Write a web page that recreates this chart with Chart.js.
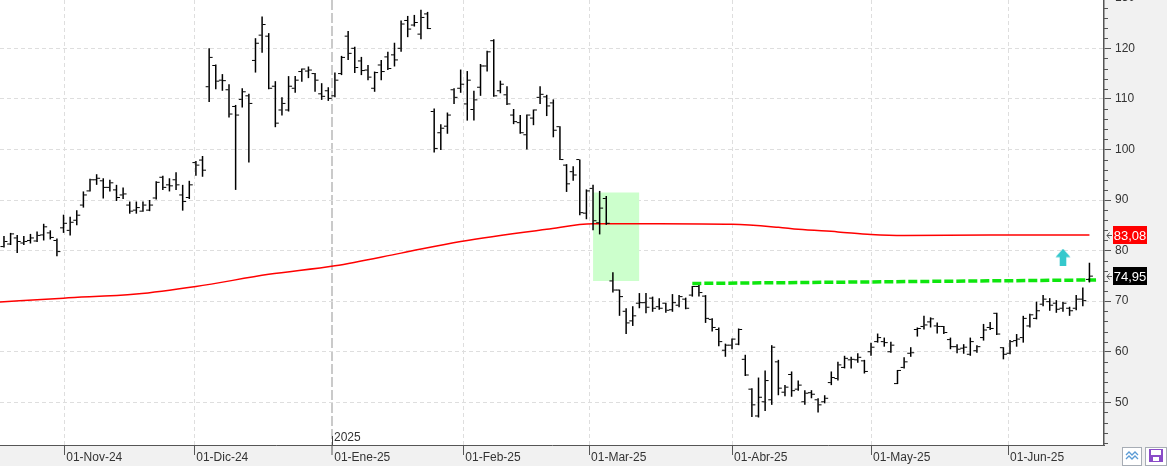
<!DOCTYPE html>
<html>
<head>
<meta charset="utf-8">
<script src="https://cdn.jsdelivr.net/npm/chart.js@4/dist/chart.umd.min.js"></script>
<style>
  html, body { margin: 0; padding: 0; background: #fff; }
</style>
</head>
<body>
<canvas id="myChart" width="1167" height="466"></canvas>
<script>
// sesiones (indice 0 = primera barra visible)
const highs = [
    82.9, 83.5, 83.1, 82.9, 83.3, 83.8, 85.3, 84.0, 82.4, 87.1,
    86.7, 88.0, 91.7, 94.2, 95.1, 94.3, 94.0, 93.0, 92.5, 89.7,
    89.7, 89.7, 90.0, 93.7, 94.8, 94.3, 95.5, 93.0, 93.8, 97.7,
    98.7, 120.0, 116.8, 114.9, 112.9, 108.8, 112.1, 111.0, 122.0, 126.3,
    123.0, 113.5, 110.3, 114.5, 114.5, 116.0, 116.4, 115.1, 113.1, 112.3,
    115.2, 118.5, 123.4, 120.3, 118.3, 116.7, 115.4, 117.7, 119.3, 121.1,
    125.5, 126.4, 126.6, 127.6, 127.2, 108.1, 105.0, 107.3, 112.1, 115.8,
    115.5, 111.6, 116.9, 119.5, 121.8, 113.6, 112.5, 108.0, 106.8, 106.9,
    107.9, 112.5, 110.8, 109.9, 104.6, 97.1, 96.7, 98.0, 92.1, 93.0,
    91.8, 90.8, 75.7, 72.3, 68.6, 69.0, 71.6, 71.6, 70.9, 70.6,
    69.7, 71.4, 71.2, 70.7, 73.0, 73.2, 71.2, 66.6, 64.8, 61.6,
    62.6, 64.6, 59.4, 52.8, 54.9, 56.3, 61.3, 58.4, 53.4, 56.1,
    54.3, 52.4, 52.4, 50.8, 51.4, 56.1, 58.0, 59.2, 59.0, 59.7,
    58.4, 61.8, 63.6, 62.8, 62.0, 56.4, 58.9, 60.9, 64.8, 67.1,
    66.8, 65.8, 65.1, 62.8, 61.5, 61.5, 62.8, 61.3, 65.5, 65.9,
    67.7, 60.9, 62.3, 63.5, 67.1, 67.5, 69.9, 71.2, 70.6, 70.2,
    69.9, 68.9, 71.2, 72.7, 77.6
];
const lows = [
    80.6, 81.1, 79.5, 81.1, 81.4, 81.7, 82.0, 82.2, 78.9, 83.5,
    83.0, 85.0, 88.5, 91.7, 93.0, 90.3, 91.7, 89.8, 90.2, 87.3,
    87.3, 87.7, 87.8, 90.1, 92.0, 91.7, 92.0, 87.9, 90.2, 94.8,
    94.6, 109.4, 111.9, 111.6, 106.3, 92.0, 108.3, 97.4, 115.2, 119.1,
    111.9, 104.4, 106.7, 107.5, 111.2, 113.4, 114.1, 111.4, 109.8, 109.6,
    110.3, 114.7, 117.7, 115.1, 114.7, 113.7, 111.4, 113.7, 115.7, 116.4,
    119.3, 122.2, 124.3, 121.8, 123.8, 99.4, 99.9, 103.1, 109.0, 111.2,
    105.7, 105.7, 110.6, 115.4, 110.4, 111.1, 108.8, 105.0, 103.1, 100.0,
    104.8, 109.0, 106.6, 102.4, 97.9, 91.6, 93.8, 87.0, 86.2, 84.0,
    83.2, 85.1, 71.7, 67.1, 63.5, 65.1, 68.6, 67.6, 67.9, 68.3,
    67.7, 67.9, 68.8, 68.4, 70.9, 70.9, 65.7, 64.0, 61.1, 59.0,
    60.5, 61.3, 55.2, 47.1, 47.0, 48.3, 49.5, 51.4, 51.2, 51.1,
    52.3, 49.5, 50.8, 48.0, 49.8, 53.4, 54.3, 56.7, 56.7, 57.8,
    55.7, 59.2, 61.8, 61.0, 59.8, 53.6, 56.7, 59.0, 63.0, 64.4,
    64.8, 63.6, 63.5, 60.5, 59.7, 59.6, 59.2, 59.8, 62.2, 64.3,
    63.3, 58.5, 59.5, 61.0, 61.8, 64.8, 66.4, 69.0, 68.1, 67.7,
    67.9, 67.1, 68.2, 69.0, 73.7
];
const opens = [
    80.8, 81.3, 82.5, 81.5, 82.0, 81.9, 83.1, 83.5, 82.0, 84.5,
    84.0, 86.0, 89.0, 91.8, 94.0, 93.8, 92.5, 92.0, 91.0, 89.0,
    88.0, 87.8, 88.0, 90.4, 94.5, 93.0, 94.0, 91.0, 90.5, 97.4,
    97.9, 112.4, 116.6, 113.7, 111.8, 108.5, 109.9, 110.6, 117.6, 122.6,
    122.4, 112.5, 107.8, 107.8, 112.1, 115.4, 115.5, 115.0, 111.0, 111.6,
    110.6, 115.0, 122.4, 120.0, 117.5, 115.7, 112.1, 116.7, 118.3, 118.7,
    120.0, 125.5, 124.6, 122.8, 126.8, 107.5, 103.3, 104.6, 111.8, 112.1,
    109.0, 107.9, 112.3, 116.5, 121.5, 111.6, 110.8, 106.8, 105.3, 102.9,
    106.2, 110.3, 110.4, 109.2, 104.5, 96.9, 95.6, 98.0, 87.4, 92.3,
    85.5, 90.3, 74.0, 72.2, 68.0, 66.1, 69.6, 69.7, 70.6, 68.9,
    69.6, 68.3, 69.2, 70.4, 71.2, 72.9, 71.0, 66.4, 64.4, 60.3,
    61.3, 61.5, 58.5, 52.6, 47.3, 50.1, 50.5, 58.0, 52.0, 55.5,
    52.6, 50.1, 51.9, 50.5, 50.1, 53.9, 54.7, 56.9, 58.4, 58.4,
    58.2, 60.0, 62.0, 62.0, 60.0, 53.7, 56.9, 59.7, 64.4, 65.0,
    65.9, 65.1, 65.0, 62.4, 61.0, 60.7, 59.5, 60.2, 62.8, 64.8,
    67.6, 60.8, 59.7, 62.2, 62.8, 65.1, 66.6, 69.4, 69.9, 69.6,
    68.6, 68.6, 68.6, 70.4, 74.3
];
const closes = [
    81.8, 83.3, 81.8, 81.8, 82.5, 83.0, 84.7, 82.6, 79.8, 85.4,
    85.6, 87.0, 91.0, 94.0, 94.3, 92.5, 93.4, 90.5, 91.2, 87.8,
    88.5, 89.0, 89.0, 93.5, 92.5, 92.8, 93.0, 89.7, 93.0, 96.9,
    95.9, 118.2, 113.5, 113.6, 107.0, 106.8, 111.4, 109.1, 121.0, 124.7,
    112.1, 105.2, 109.1, 112.5, 113.7, 115.9, 115.7, 113.7, 110.5, 110.1,
    113.7, 118.2, 119.0, 116.2, 115.6, 114.3, 115.2, 115.4, 116.0, 117.7,
    124.8, 123.8, 125.1, 126.1, 123.9, 100.2, 104.2, 106.8, 110.3, 112.9,
    113.7, 109.8, 116.5, 119.3, 110.6, 112.9, 109.0, 105.5, 103.3, 106.8,
    107.8, 110.9, 108.6, 103.8, 98.0, 93.2, 94.95, 87.5, 91.8, 85.9,
    88.4, 85.4, 72.2, 70.9, 65.7, 67.1, 69.7, 68.8, 68.6, 68.6,
    68.2, 69.7, 70.9, 68.6, 72.9, 71.7, 66.6, 64.8, 62.0, 61.3,
    62.5, 64.4, 55.4, 49.5, 51.0, 54.3, 60.9, 52.8, 53.0, 52.3,
    53.4, 51.8, 51.6, 49.5, 50.8, 54.9, 57.4, 58.7, 58.5, 58.9,
    56.1, 60.9, 62.8, 61.8, 61.3, 56.3, 58.0, 59.8, 64.6, 65.3,
    66.5, 65.0, 63.8, 61.0, 60.5, 60.9, 62.0, 61.0, 64.3, 64.6,
    63.5, 59.5, 62.0, 62.5, 66.6, 67.3, 68.1, 70.4, 69.2, 68.4,
    69.6, 68.1, 70.4, 70.1, 74.95
];

// media movil roja
const maIdx = [-1, 9, 20, 29, 40, 50, 60, 69, 82, 89, 99, 110, 117, 120, 126, 131, 136, 149, 164];
const maVal = [69.8, 70.6, 71.4, 72.9, 75.3, 77.0, 79.5, 81.8, 84.2, 85.3, 85.3, 85.2, 84.6, 84.2, 83.7, 83.2, 83.0, 83.1, 83.08];

// linea verde discontinua (resistencia)
const resIdx = [104, 165];
const resVal = [73.5, 74.2];

// zona verde
const zoneIdx = [89, 96];
const zoneTop = 91.5;
const zoneBottom = 74.0;

// flecha de señal
const signalIdx = [160];
const signalVal = [78.7];

const monthTicks = [9.1, 28.75, 49.6, 69.4, 88.4, 110, 131, 151.7];
const monthLabels = ['01-Nov-24', '01-Dic-24', '01-Ene-25', '01-Feb-25', '01-Mar-25', '01-Abr-25', '01-May-25', '01-Jun-25'];
const yearTick = 49.6;
const yearLabel = '2025';
const priceTicks = [50, 60, 70, 80, 90, 100, 110, 120, 130];

const FONT = "'Liberation Sans', Arial, sans-serif";
Chart.defaults.font.family = FONT;
Chart.defaults.font.size = 12;

function fmt(v) {
    return v.toFixed(2).replace('.', ',');
}

function makeArrow(color) {
    const c = document.createElement('canvas');
    c.width = 16;
    c.height = 17;
    const g = c.getContext('2d');
    g.fillStyle = color;
    g.beginPath();
    g.moveTo(8, 0);
    g.lineTo(15.5, 8.5);
    g.lineTo(11.3, 8.5);
    g.lineTo(11.3, 17);
    g.lineTo(4.7, 17);
    g.lineTo(4.7, 8.5);
    g.lineTo(0.5, 8.5);
    g.closePath();
    g.fill();
    return c;
}

const panelPlugin = {
    id: 'panels',
    beforeDraw(chart) {
        const {ctx, chartArea, width, height} = chart;
        ctx.save();
        ctx.fillStyle = '#ffffff';
        ctx.fillRect(0, 0, width, height);
        ctx.fillStyle = '#f1f1f1';
        ctx.fillRect(chartArea.right, 0, width - chartArea.right, height);
        ctx.fillRect(0, chartArea.bottom, width, height - chartArea.bottom);
        ctx.restore();
    },
    afterDraw(chart) {
        const {ctx, chartArea} = chart;
        const xs = chart.scales.x;
        const ys = chart.scales.y;
        ctx.save();

        // marcas menores del eje de precios
        ctx.strokeStyle = '#555';
        ctx.lineWidth = 1;
        for (let v = 42; v <= 128; v += 2) {
            if (v % 10 === 0) continue;
            const y = Math.round(ys.getPixelForValue(v)) + 0.5;
            ctx.beginPath();
            ctx.moveTo(chartArea.right, y);
            ctx.lineTo(chartArea.right + 4, y);
            ctx.stroke();
        }

        // marca de año
        const yx = Math.round(xs.getPixelForValue(yearTick)) + 0.5;
        ctx.strokeStyle = '#444';
        ctx.beginPath();
        ctx.moveTo(yx, chartArea.bottom - 9);
        ctx.lineTo(yx, chartArea.bottom);
        ctx.stroke();
        ctx.fillStyle = '#333';
        ctx.font = '12px ' + FONT;
        ctx.textBaseline = 'alphabetic';
        ctx.textAlign = 'left';
        ctx.fillText(yearLabel, yx + 1.5, chartArea.bottom - 4);

        // etiquetas de último valor
        const tags = [
            {v: maVal[maVal.length - 1], bg: '#ff0000'},
            {v: closes[closes.length - 1], bg: '#000000'}
        ];
        tags.forEach(t => {
            const y = ys.getPixelForValue(t.v);
            ctx.fillStyle = t.bg;
            ctx.fillRect(chartArea.right + 9, Math.round(y) - 9, 34, 18);
            ctx.fillStyle = '#ffffff';
            ctx.textAlign = 'center';
            ctx.textBaseline = 'middle';
            ctx.font = '13px ' + FONT;
            ctx.fillText(fmt(t.v), chartArea.right + 26, y + 1);
            ctx.strokeStyle = '#555';
            ctx.lineWidth = 1;
            ctx.beginPath();
            ctx.moveTo(chartArea.right + 3, Math.round(y) + 0.5);
            ctx.lineTo(chartArea.right + 8, Math.round(y) + 0.5);
            ctx.moveTo(chartArea.right + 5.5, Math.round(y) - 2.5);
            ctx.lineTo(chartArea.right + 3, Math.round(y) + 0.5);
            ctx.lineTo(chartArea.right + 5.5, Math.round(y) + 3.5);
            ctx.stroke();
        });

        // botones inferiores
        ctx.lineWidth = 1;
        ctx.fillStyle = '#ffffff';
        ctx.strokeStyle = '#a7adb5';
        ctx.fillRect(1122.5, 447.5, 19, 18);
        ctx.strokeRect(1122.5, 447.5, 19, 18);
        ctx.fillRect(1145.5, 447.5, 21, 18);
        ctx.strokeRect(1145.5, 447.5, 21, 18);
        ctx.strokeStyle = '#5b9bd5';
        ctx.lineWidth = 1.3;
        [0, 4].forEach(d => {
            ctx.beginPath();
            ctx.moveTo(1126, 455 + d);
            ctx.lineTo(1129, 452 + d);
            ctx.lineTo(1132, 455 + d);
            ctx.lineTo(1135, 452 + d);
            ctx.lineTo(1138, 455 + d);
            ctx.stroke();
        });
        ctx.fillStyle = '#8a4cc8';
        ctx.fillRect(1149, 449, 14, 13);
        ctx.fillStyle = '#ffffff';
        ctx.fillRect(1151, 450, 10, 5);
        ctx.fillRect(1153, 457, 6, 4);
        ctx.restore();
    }
};

const sessions = highs.map((h, i) => ({x: i, y: [lows[i], h]}));
const openPts = opens.map((o, i) => ({x: i - 0.3, y: o}));
const closePts = closes.map((c, i) => ({x: i + 0.3, y: c}));

const ctx = document.getElementById('myChart');
const myChart = new Chart(ctx, {
    type: 'bar',
    data: {
        datasets: [
            {
                type: 'line',
                data: openPts,
                showLine: false,
                pointStyle: 'line',
                pointRadius: 1.5,
                pointBorderWidth: 1,
                pointBorderColor: '#000',
                pointBackgroundColor: '#000',
                order: 0
            },
            {
                type: 'line',
                data: closePts,
                showLine: false,
                pointStyle: 'line',
                pointRadius: 1.5,
                pointBorderWidth: 1,
                pointBorderColor: '#000',
                pointBackgroundColor: '#000',
                order: 0
            },
            {
                type: 'bar',
                data: sessions,
                backgroundColor: '#000',
                borderWidth: 0,
                barThickness: 1.5,
                inflateAmount: 0,
                grouped: false,
                order: 1
            },
            {
                type: 'line',
                data: signalIdx.map((x, i) => ({x: x, y: signalVal[i]})),
                showLine: false,
                pointStyle: makeArrow('#35c8cc'),
                pointRadius: 8,
                order: 2
            },
            {
                type: 'line',
                data: resIdx.map((x, i) => ({x: x, y: resVal[i]})),
                borderColor: '#0ee60e',
                borderWidth: 3.5,
                borderDash: [9, 3],
                pointRadius: 0,
                order: 3
            },
            {
                type: 'line',
                data: maIdx.map((x, i) => ({x: x, y: maVal[i]})),
                borderColor: '#ff0000',
                borderWidth: 1.5,
                pointRadius: 0,
                cubicInterpolationMode: 'monotone',
                order: 4
            },
            {
                type: 'line',
                data: zoneIdx.map(x => ({x: x, y: zoneTop})),
                fill: {value: zoneBottom},
                backgroundColor: '#ccffcc',
                borderColor: 'rgba(0,0,0,0)',
                borderWidth: 0,
                pointRadius: 0,
                order: 10
            }
        ]
    },
    options: {
        responsive: false,
        animation: false,
        events: [],
        layout: {
            padding: 0,
            autoPadding: false
        },
        plugins: {
            legend: {display: false},
            tooltip: {enabled: false}
        },
        scales: {
            x: {
                type: 'linear',
                position: 'bottom',
                min: -0.6,
                max: 166.2,
                offset: false,
                afterBuildTicks: s => {
                    s.ticks = monthTicks.map(v => ({value: v}));
                },
                afterFit: s => {
                    s.height = 21;
                    s.paddingLeft = 0;
                    s.paddingRight = 0;
                },
                ticks: {
                    autoSkip: false,
                    maxRotation: 0,
                    minRotation: 0,
                    align: 'start',
                    labelOffset: 2,
                    padding: -5,
                    color: '#333',
                    font: {size: 12},
                    callback: (v, i) => monthLabels[i]
                },
                grid: {
                    offset: false,
                    color: c => (c.tick && c.tick.value === yearTick) ? '#cacaca' : '#dedede',
                    lineWidth: c => (c.tick && c.tick.value === yearTick) ? 2 : 1,
                    tickLength: 10,
                    tickColor: '#555',
                    tickWidth: 1,
                    tickBorderDash: []
                },
                border: {
                    color: '#555',
                    width: 1,
                    dash: c => (c.tick && c.tick.value === yearTick) ? [10, 3] : [4, 3]
                }
            },
            y: {
                type: 'linear',
                position: 'right',
                min: 41.56,
                max: 129.55,
                afterBuildTicks: s => {
                    s.ticks = priceTicks.map(v => ({value: v}));
                },
                afterFit: s => {
                    s.width = 63;
                    s.paddingTop = 0;
                    s.paddingBottom = 0;
                },
                ticks: {
                    autoSkip: false,
                    padding: 4,
                    color: '#333',
                    font: {size: 12},
                    callback: v => String(v)
                },
                grid: {
                    color: '#dedede',
                    lineWidth: 1,
                    tickLength: 7,
                    tickColor: '#555',
                    tickWidth: 1,
                    tickBorderDash: []
                },
                border: {
                    color: '#555',
                    width: 1.5,
                    dash: [4, 3]
                }
            }
        }
    },
    plugins: [panelPlugin]
});
</script>
</body>
</html>
